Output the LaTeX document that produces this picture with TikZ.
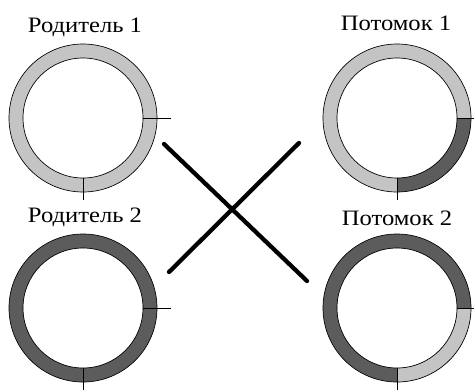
\documentclass[tikz,border=0pt]{standalone}
\usepackage{fontspec}
\setmainfont{Liberation Serif}
\definecolor{lightg}{HTML}{C4C4C4}
\definecolor{darkg}{HTML}{5C5C5C}
\tikzset{
  lbl/.style={font=\fontsize{16.5}{18}\selectfont, inner sep=0pt},
  ringedge/.style={draw=black, line width=0.5pt},
  tick/.style={draw=black, line width=0.7pt},
  crossline/.style={draw=black, line width=3.2pt, line cap=round}
}
\newcommand\wtext[1]{\scalebox{1.12}[1]{#1}}
\newcommand\ringfull[2]{% center, color
  \fill[#2, even odd rule] (#1) circle[radius=74] (#1) circle[radius=60];
}
\newcommand\ringquad[2]{% center, color : lower-right quadrant
  \fill[#2] (#1) ++(0:74) arc[start angle=0, end angle=90, radius=74]
     -- ++(0,-14) arc[start angle=90, end angle=0, radius=60] -- cycle;
}
\newcommand\ringedges[1]{%
  \draw[ringedge] (#1) circle[radius=74];
  \draw[ringedge] (#1) circle[radius=60];
  \draw[tick] (#1) ++(60,0) -- ++(28,0);
  \draw[tick] (#1) ++(0,60) -- ++(0,22);
}
\begin{document}
\begin{tikzpicture}[x=0.75pt, y=-0.75pt]
\useasboundingbox (0,0) rectangle (474,389);
\coordinate (r1) at (83,118);
\coordinate (r2) at (83,308);
\coordinate (o1) at (397,118);
\coordinate (o2) at (397,308);

\node[lbl] (l1) at (85,27) {\wtext{Родитель 1}};
\node[lbl] (l2) at (85,217) {\wtext{Родитель 2}};
\node[lbl] (l3) at (396,23) {\wtext{Потомок 1}};
\node[lbl] (l4) at (397,218) {\wtext{Потомок 2}};

\ringfull{r1}{lightg}
\ringfull{r2}{darkg}
\ringfull{o1}{lightg}
\ringquad{o1}{darkg}
\ringfull{o2}{darkg}
\ringquad{o2}{lightg}

\ringedges{r1}
\ringedges{r2}
\ringedges{o1}
\ringedges{o2}

\coordinate (a1) at (164,144);
\coordinate (a2) at (307,281);
\coordinate (b1) at (169,272);
\coordinate (b2) at (299,143);
\draw[crossline] (a1) -- (a2);
\draw[crossline] (b1) -- (b2);
\end{tikzpicture}
\end{document}
